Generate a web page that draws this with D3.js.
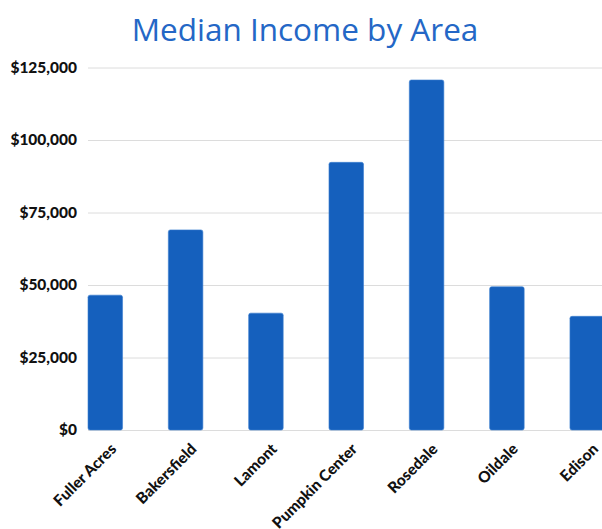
<!DOCTYPE html>
<html>
<head>
<meta charset="utf-8">
<script src="https://cdn.jsdelivr.net/npm/d3@7"></script>
<style>
  html, body { margin: 0; padding: 0; background: #fff; }
  svg { display: block; }
</style>
</head>
<body>
<svg id="chart" width="602" height="529"></svg>
<script>
// Median household income per area
const areas = ["Fuller Acres", "Bakersfield", "Lamont", "Pumpkin Center", "Rosedale", "Oildale", "Edison"];
const medianIncome = [46500, 69000, 40300, 92300, 120700, 49400, 39200];
const yTicks = [0, 25000, 50000, 75000, 100000, 125000];

const width = 602, height = 529;
const margin = { top: 67.5, left: 88, bottom: 99 };
const plotRight = 604.5;

const svg = d3.select("#chart");

const x = d3.scaleBand()
  .domain(areas)
  .range([margin.left, plotRight])
  .paddingInner(0.57)
  .paddingOuter(0);

const y = d3.scaleLinear()
  .domain([0, 125000])
  .range([height - margin.bottom, margin.top]);

// Title
svg.append("text")
  .attr("x", 305)
  .attr("y", 41)
  .attr("text-anchor", "middle")
  .attr("fill", "#2467c6")
  .style("font-family", "'Open Sans', sans-serif")
  .style("font-size", "31.5px")
  .text("Median Income by Area");

// Horizontal gridlines and y labels
const yAxis = d3.axisLeft(y)
  .tickValues(yTicks)
  .tickSize(-(width - margin.left))
  .tickPadding(11)
  .tickFormat(d => "$" + d3.format(",")(d));

const gy = svg.append("g")
  .attr("transform", `translate(${margin.left},0)`)
  .call(yAxis);
gy.select(".domain").remove();
gy.selectAll(".tick line").attr("stroke", "#dcdcdc").attr("stroke-width", 1);
gy.selectAll(".tick text")
  .attr("fill", "#111")
  .style("font-family", "'Lato', sans-serif")
  .style("font-weight", "900")
  .style("font-size", "15.5px");

// Bars
svg.append("g")
  .selectAll("rect")
  .data(areas)
  .join("rect")
  .attr("x", d => x(d))
  .attr("y", (d, i) => y(medianIncome[i]))
  .attr("width", x.bandwidth())
  .attr("height", (d, i) => y(0) - y(medianIncome[i]))
  .attr("rx", 2)
  .attr("fill", "#1560bd")
  .attr("stroke", "#3d7fd0")
  .attr("stroke-width", 0.6);

// Rotated category labels
const xAxis = d3.axisBottom(x).tickSize(0).tickPadding(0);
const gx = svg.append("g")
  .attr("transform", `translate(0,${y(0)})`)
  .call(xAxis);
gx.select(".domain").remove();
gx.selectAll(".tick text")
  .attr("text-anchor", "end")
  .attr("dy", "0")
  .attr("transform", "translate(12,20) rotate(-45)")
  .attr("fill", "#111")
  .style("font-family", "'Lato', sans-serif")
  .style("font-weight", "900")
  .style("font-size", "15.5px");
</script>
</body>
</html>
